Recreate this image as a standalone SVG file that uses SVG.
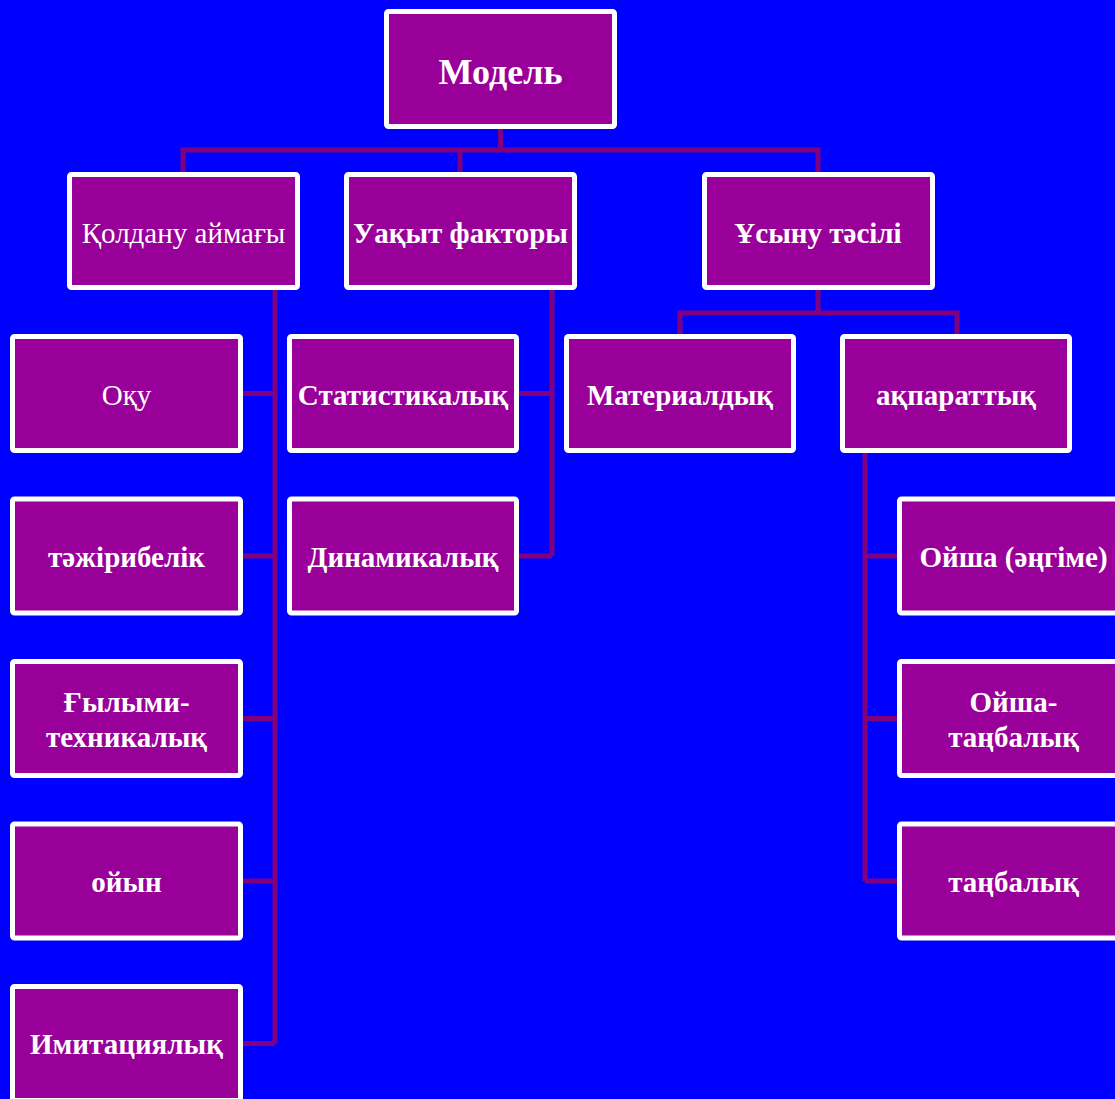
<svg xmlns="http://www.w3.org/2000/svg" width="1115" height="1099" viewBox="0 0 1115 1099">
<style>
.box{fill:#990099;stroke:#ffffff;stroke-width:5;}
.t{font-family:"Liberation Serif","Times New Roman",serif;fill:#ffffff;text-anchor:middle;font-weight:bold;font-size:29px;}
.n{font-weight:normal;}
.big{font-size:36px;}
.c{fill:none;stroke:#800080;stroke-width:5;stroke-linejoin:miter;}
</style>
<rect width="1115" height="1099" fill="#0000ff"/>
<g id="connectors">
<path class="c" d="M500.5,129 V150 M183,172 V150 H818 V172 M460,150 V172"/>
<path class="c" d="M275,290 V1043.5 M243,393.5 H275 M243,556 H275 M243,718.5 H275 M243,881 H275 M243,1043.5 H275"/>
<path class="c" d="M552,290 V556 M519,393.5 H552 M519,556 H552"/>
<path class="c" d="M818,290 V313 M680,334 V313 H957 V334"/>
<path class="c" d="M865,453 V881 M865,556 H897 M865,718.5 H897 M865,881 H897"/>
</g>
<g id="model"><rect class="box" x="386.5" y="11.5" width="228" height="115" rx="2"/><text class="t big" x="500.5" y="84">Модель</text></g>
<g id="qoldanu"><rect class="box" x="69.5" y="174.5" width="228" height="113" rx="2"/><text class="t n" x="183.5" y="243">Қолдану аймағы</text></g>
<g id="uaqyt"><rect class="box" x="346.5" y="174.5" width="228" height="113" rx="2"/><text class="t" x="460.5" y="243">Уақыт факторы</text></g>
<g id="usynu"><rect class="box" x="704.5" y="174.5" width="228" height="113" rx="2"/><text class="t" x="818" y="243">Ұсыну тәсілі</text></g>
<g id="oqu"><rect class="box" x="12.5" y="336.5" width="228" height="114" rx="2"/><text class="t n" x="126.5" y="405">Оқу</text></g>
<g id="tazhiribelik"><rect class="box" x="12.5" y="499" width="228" height="114" rx="2"/><text class="t" x="126.5" y="567">тәжірибелік</text></g>
<g id="gylymi"><rect class="box" x="12.5" y="661.5" width="228" height="114" rx="2"/><text class="t" x="126.5" y="712">Ғылыми-</text><text class="t" x="126.5" y="747">техникалық</text></g>
<g id="oiyn"><rect class="box" x="12.5" y="824" width="228" height="114" rx="2"/><text class="t" x="126.5" y="892">ойын</text></g>
<g id="imitatsiya"><rect class="box" x="12.5" y="986.5" width="228" height="114" rx="2"/><text class="t" x="126.5" y="1054">Имитациялық</text></g>
<g id="statistik"><rect class="box" x="289.5" y="336.5" width="227" height="114" rx="2"/><text class="t" x="403" y="405">Статистикалық</text></g>
<g id="dinamik"><rect class="box" x="289.5" y="499" width="227" height="114" rx="2"/><text class="t" x="403" y="567">Динамикалық</text></g>
<g id="material"><rect class="box" x="566.5" y="336.5" width="227" height="114" rx="2"/><text class="t" x="680" y="405">Материалдық</text></g>
<g id="aqparat"><rect class="box" x="842.5" y="336.5" width="227" height="114" rx="2"/><text class="t" x="956" y="405">ақпараттық</text></g>
<g id="oisha1"><rect class="box" x="899.5" y="499" width="228" height="114" rx="2"/><text class="t" x="1013.5" y="567">Ойша (әңгіме)</text></g>
<g id="oisha2"><rect class="box" x="899.5" y="661.5" width="228" height="114" rx="2"/><text class="t" x="1013.5" y="712">Ойша-</text><text class="t" x="1013.5" y="747">таңбалық</text></g>
<g id="tanba"><rect class="box" x="899.5" y="824" width="228" height="114" rx="2"/><text class="t" x="1013.5" y="892">таңбалық</text></g>
</svg>
